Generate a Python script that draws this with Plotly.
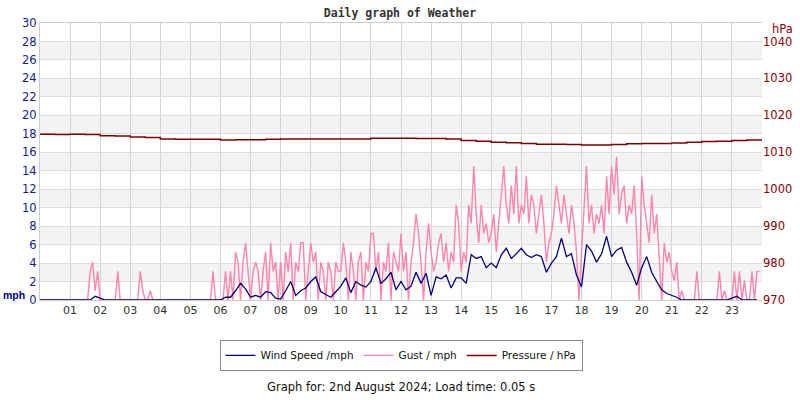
import numpy as np
import plotly.graph_objects as go

# ---------------- data ----------------
hour_labels = ["%02d" % h for h in range(1, 24)]
hour_ticks = list(range(1, 24))

# Gust (mph), 5-minute samples, one row per hour 00..23
gust = (
    [0, 0, 0, 0, 0, 0, 0, 0, 0, 0, 0, 0] +
    [0, 0, 0, 0, 0, 0, 0, 0, 3.1, 4.1, 1.0, 3.1] +
    [0, 0, 0, 0, 0, 0, 0, 3.1, 0, 0, 0, 0] +
    [0, 0, 0, 0, 3.1, 1.0, 0, 0, 1.0, 0, 0, 0] +
    [0, 0, 0, 0, 0, 0, 0, 0, 0, 0, 0, 0] +
    [0, 0, 0, 0, 0, 0, 0, 0, 0, 3.1, 0, 0] +
    [0, 0, 3.1, 0, 3.1, 0, 5.2, 4.1, 0, 4.1, 6.2, 3.1] +
    [0, 3.1, 4.1, 3.1, 0, 3.1, 5.2, 0, 6.2, 3.1, 4.1, 0] +
    [4.1, 0, 5.2, 3.1, 6.2, 0, 4.1, 3.1, 6.2, 6.2, 0, 3.1] +
    [6.2, 4.1, 5.2, 0, 4.1, 3.1, 0, 4.1, 3.1, 0, 4.1, 3.1] +
    [3.1, 6.2, 4.1, 0, 5.2, 3.1, 0, 4.1, 5.2, 0, 4.1, 3.1] +
    [7.2, 7.2, 3.1, 5.2, 0, 4.1, 3.1, 6.2, 0, 5.2, 4.1, 3.1] +
    [7.2, 3.1, 5.2, 0, 4.1, 6.2, 9.3, 7.2, 4.1, 0, 5.2, 8.3] +
    [5.2, 3.1, 4.1, 6.2, 7.2, 4.1, 6.2, 3.1, 5.2, 4.1, 10.3, 8.3] +
    [3.1, 5.2, 4.1, 10.3, 8.3, 14.5, 9.3, 6.2, 10.3, 7.2, 8.3, 6.2] +
    [7.2, 9.3, 5.2, 8.3, 11.4, 14.5, 10.3, 8.3, 12.4, 9.3, 14.5, 8.3] +
    [10.3, 9.3, 13.4, 8.3, 11.4, 10.3, 7.2, 9.3, 11.4, 8.3, 4.1, 6.2] +
    [7.2, 9.3, 12.4, 10.3, 8.3, 11.4, 9.3, 7.2, 10.3, 8.3, 5.2, 0] +
    [5.2, 9.3, 14.5, 8.3, 10.3, 7.2, 9.3, 8.3, 10.3, 7.2, 13.4, 9.3] +
    [14.5, 11.4, 15.5, 9.3, 11.4, 12.4, 8.3, 10.3, 9.3, 12.4, 7.2, 0] +
    [13.4, 10.3, 8.3, 6.2, 11.4, 7.2, 9.3, 5.2, 0, 6.2, 4.1, 5.2] +
    [3.1, 2.1, 4.1, 0, 1.0, 0, 0, 0, 0, 0, 3.1, 0] +
    [0, 0, 0, 0, 0, 0, 0, 3.1, 0, 1.0, 0, 0] +
    [0, 3.1, 0, 3.1, 0, 2.1, 0, 0, 3.1, 0, 3.1, 3.1]
)

# Wind speed (mph), 10-minute samples, one row per hour 00..23
wind = (
    [0, 0, 0, 0, 0, 0] +
    [0, 0, 0, 0, 0, 0.4] +
    [0.2, 0, 0, 0, 0, 0] +
    [0, 0, 0, 0, 0, 0] +
    [0, 0, 0, 0, 0, 0] +
    [0, 0, 0, 0, 0, 0] +
    [0, 0.3, 0.3, 1.0, 1.8, 1.2] +
    [0.3, 0.5, 0.3, 0.9, 0.8, 0.2] +
    [0.1, 1.0, 2.0, 0.5, 1.0, 1.3] +
    [2.0, 2.5, 0.9, 0.6, 0.3, 0.9] +
    [1.5, 2.4, 0.8, 2.0, 1.6, 1.4] +
    [2.0, 3.5, 1.8, 2.3, 3.0, 1.1] +
    [2.0, 1.1, 1.5, 3.0, 1.8, 2.9] +
    [0.5, 2.5, 2.3, 2.7, 1.3, 2.4] +
    [2.4, 1.8, 4.9, 4.5, 4.7, 3.5] +
    [4.0, 3.5, 4.9, 5.6, 4.5, 5.0] +
    [5.6, 4.9, 4.6, 4.9, 4.7, 3.0] +
    [4.0, 4.7, 6.7, 4.7, 5.0, 2.7] +
    [1.4, 6.0, 5.3, 4.1, 5.0, 6.9] +
    [4.7, 5.4, 5.7, 4.1, 3.0, 1.6] +
    [3.5, 4.7, 3.0, 2.0, 1.1, 0.7] +
    [0.5, 0.3, 0, 0, 0, 0] +
    [0, 0, 0, 0, 0, 0] +
    [0.2, 0.4, 0, 0, 0, 0]
)

# Pressure (hPa), 30-minute samples 00:00 .. 24:00
pressure = [
    1014.9, 1014.8, 1014.9, 1014.8, 1014.5, 1014.4, 1014.1, 1014.0,
    1013.6, 1013.5, 1013.5, 1013.5, 1013.3, 1013.4, 1013.4, 1013.5,
    1013.6, 1013.6, 1013.6, 1013.6, 1013.6, 1013.6, 1013.8, 1013.8,
    1013.8, 1013.7, 1013.7, 1013.6, 1013.2, 1013.0, 1012.7, 1012.6,
    1012.4, 1012.2, 1012.2, 1012.1, 1012.0, 1012.0, 1012.1, 1012.3,
    1012.4, 1012.4, 1012.5, 1012.7, 1012.9, 1013.0, 1013.2, 1013.3,
    1013.3,
]

gust_t = np.arange(len(gust)) * 5 / 60.0
wind_t = np.arange(len(wind)) * 10 / 60.0
pres_t = np.arange(len(pressure)) * 30 / 60.0

C_WIND = "#000080"
C_GUST = "#ff85aa"
C_PRES = "#800000"
FONT = "DejaVu Sans"

fig = go.Figure()
fig.add_trace(go.Scatter(x=gust_t, y=gust, mode="lines", name="Gust / mph",
                         line=dict(color=C_GUST, width=1.4), legendrank=2))
fig.add_trace(go.Scatter(x=wind_t, y=wind, mode="lines", name="Wind Speed /mph",
                         line=dict(color=C_WIND, width=1.3), legendrank=1))
fig.add_trace(go.Scatter(x=pres_t, y=pressure, mode="lines", name="Pressure / hPa",
                         line=dict(color=C_PRES, width=1.5, shape="hv"),
                         yaxis="y2", legendrank=3))

# alternating horizontal bands
shapes = []
for lo in range(2, 30, 4):
    shapes.append(dict(type="rect", xref="paper", yref="y", x0=0, x1=1,
                       y0=lo, y1=lo + 2, fillcolor="#f3f3f3",
                       line=dict(width=0), layer="below"))

fig.update_layout(
    width=800, height=400,
    margin=dict(l=40, r=38, t=23, b=100, autoexpand=False),
    paper_bgcolor="white", plot_bgcolor="white",
    font=dict(family=FONT, size=11, color="#333333"),
    title=dict(text="<b>Daily graph of Weather</b>", x=0.5, xanchor="center",
               y=1 - 13 / 400, yanchor="middle",
               font=dict(family="DejaVu Sans Mono", size=11.5, color="#333333")),
    shapes=shapes,
    showlegend=True,
    legend=dict(orientation="h", x=0.5, xanchor="center", y=-0.144, yanchor="top",
                bordercolor="#888888", borderwidth=1, bgcolor="white",
                font=dict(family=FONT, size=10.5, color="#111111"),
                itemwidth=30, tracegroupgap=0),
    xaxis=dict(range=[0, 24], tickmode="array", tickvals=hour_ticks,
               ticktext=hour_labels, showgrid=True, gridcolor="#d4d4d4",
               zeroline=False, showline=True, linecolor="#cccccc", mirror=True,
               ticks="", automargin=False,
               tickfont=dict(family=FONT, size=11, color="#333333")),
    yaxis=dict(range=[0, 30], dtick=2, showgrid=True, gridcolor="#dddddd",
               zeroline=False, showline=True, linecolor="#cccccc",
               ticks="", automargin=False,
               tickfont=dict(family=FONT, size=11.5, color="#1a1a8c")),
    yaxis2=dict(range=[970, 1045], overlaying="y", side="right",
                tickmode="array", tickvals=list(range(970, 1041, 10)),
                showgrid=False, zeroline=False, showline=False, ticks="",
                automargin=False,
                tickfont=dict(family=FONT, size=11.5, color="#8b0000")),
    annotations=[
        dict(text="<b>mph</b>", xref="paper", yref="paper", x=0, y=0,
             xanchor="left", yanchor="middle", xshift=-39, yshift=5,
             showarrow=False,
             font=dict(family="Liberation Sans", size=10.5, color="#00008b")),
        dict(text="hPa", xref="paper", yref="paper", x=1, y=1,
             xanchor="left", yanchor="middle", xshift=8, yshift=-6,
             showarrow=False, font=dict(family=FONT, size=11.5, color="#8b0000")),
        dict(text="Graph for: 2nd August 2024; Load time: 0.05 s",
             xref="paper", yref="paper", x=0.5, y=-0.314,
             xanchor="center", yanchor="middle", showarrow=False,
             font=dict(family=FONT, size=11.5, color="#111111")),
    ],
)

fig.write_html("out.html",
               config={"displayModeBar": False},
               post_script="document.body.style.margin='0';")
